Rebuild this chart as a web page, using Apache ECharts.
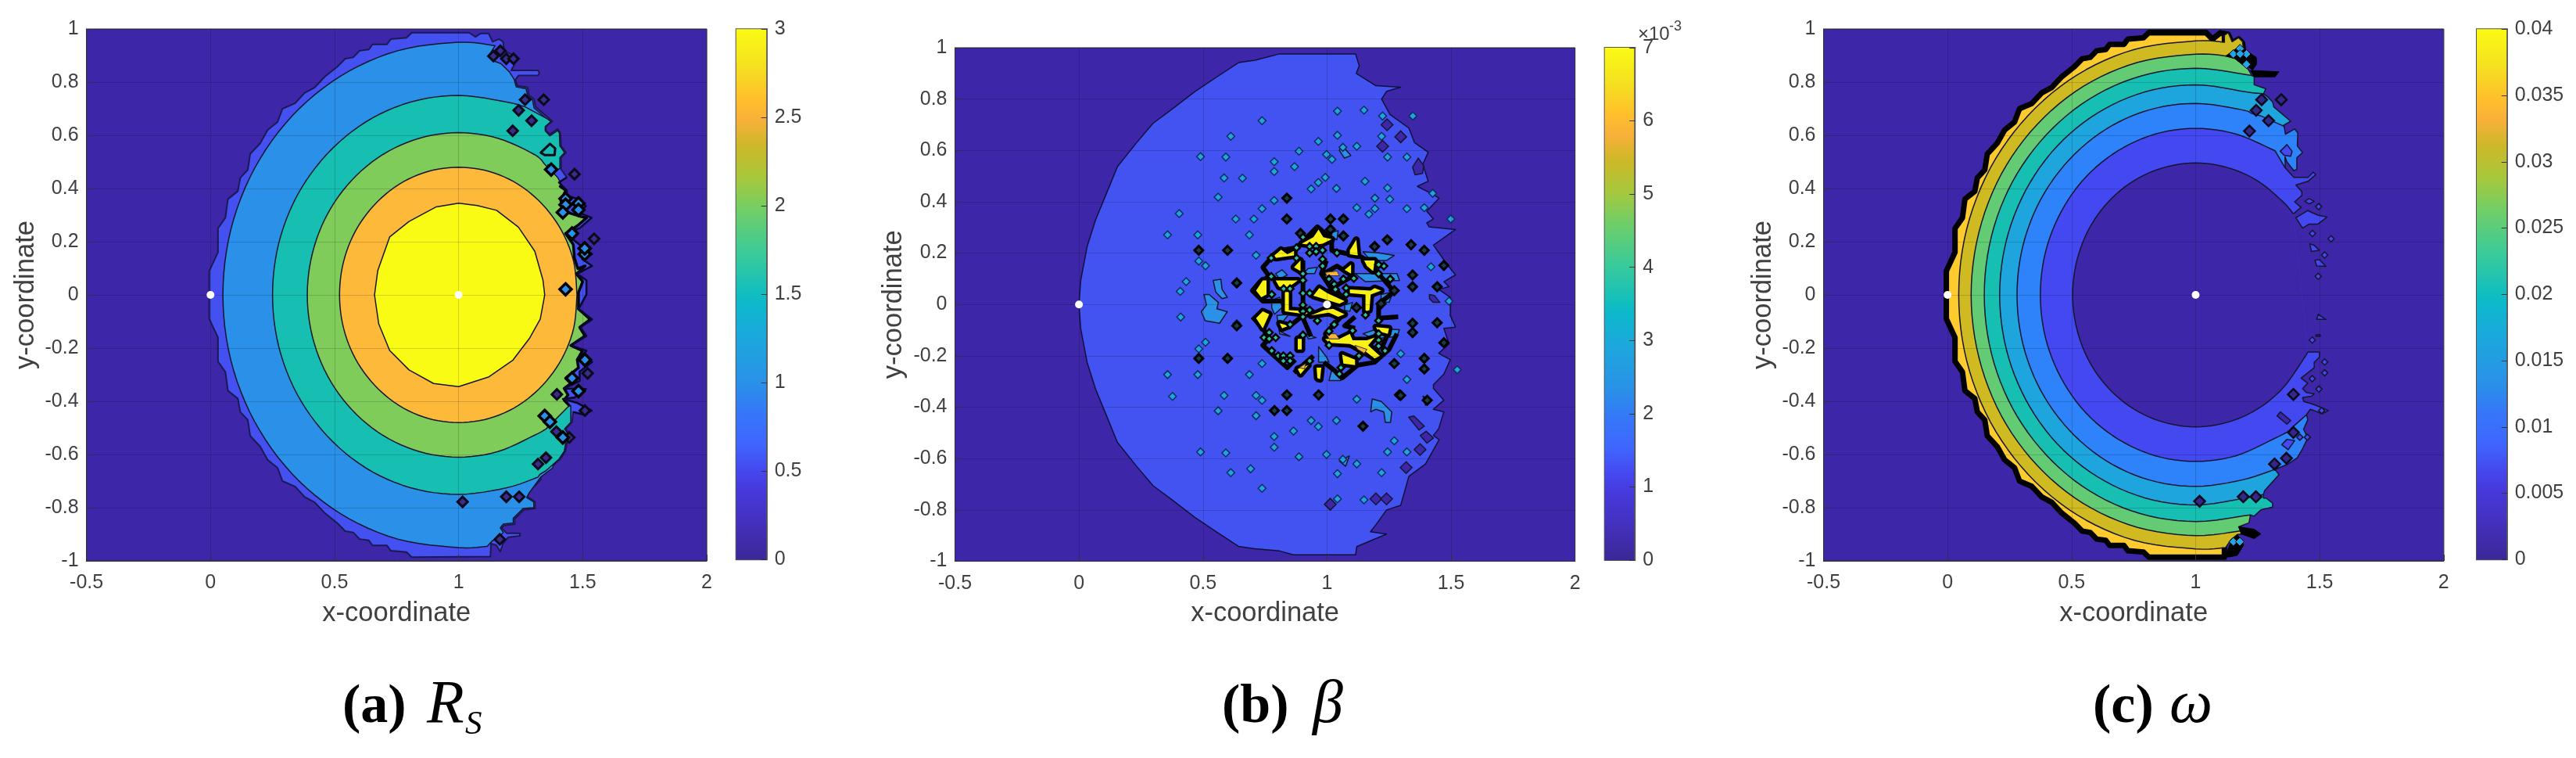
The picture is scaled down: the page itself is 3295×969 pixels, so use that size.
<!DOCTYPE html>
<html><head><meta charset="utf-8">
<style>html,body{margin:0;padding:0;background:#fff}#c{width:3295px;height:969px}</style>
<script src="https://cdn.jsdelivr.net/npm/echarts@6/dist/echarts.min.js"></script>
</head><body><div id="c"></div>
<script>
// ---------- axis and colour bar values ----------
const xRange=[-0.5,2], yRange=[-1,1];
const barMaxA=3, barStepA=0.5, barMaxB=7, barStepB=1, barMaxC=0.04, barStepC=0.005;
const colorOffsets=[0,.07,.13,.17,.22,.28,.33,.42,.48,.5,.58,.66,.72,.78,.83,.87,.93,1];
const colorValues=['#3B2796','#4331BE','#4738DC','#4549F0','#3F66FF','#3578F8','#2A90E8','#1CA8DC','#0DB8CC','#10BEC0','#3CCB98','#72CE66','#A8C83C','#CDB828','#F9B03A','#FFC02C','#F5E020','#FAFB14'];
const refPoints=[[0,0],[1,0]];
const BG='#3D26A8';

// outer left edge of the feasible region (top to bottom)
const outerLeft=[[.811,.986],[.79,.967],[.727,.962],[.711,.942],[.653,.942],[.638,.923],[.601,.918],[.575,.893],[.543,.888],[.512,.859],[.46,.82],[.42,.78],[.38,.76],[.34,.72],[.29,.70],[.27,.65],[.23,.62],[.2,.57],[.16,.53],[.15,.47],[.12,.44],[.11,.39],[.07,.36],[.06,.29],[.03,.25],[.03,.16],[-.005,.09],[-.005,-.09],[.03,-.16],[.03,-.25],[.06,-.29],[.07,-.36],[.11,-.39],[.12,-.44],[.15,-.47],[.16,-.53],[.2,-.57],[.23,-.62],[.27,-.65],[.29,-.70],[.34,-.72],[.38,-.76],[.42,-.78],[.46,-.82],[.512,-.859],[.543,-.888],[.575,-.893],[.601,-.918],[.638,-.923],[.653,-.942],[.711,-.942],[.727,-.962],[.79,-.967],[.811,-.986]];

// ---------- panel (a) R_S contours ----------
const aJagOuter=[[1.042,.986],[1.068,.970],[1.089,.983],[1.121,.983],[1.137,.952],[1.163,.962],[1.179,.952],[1.184,.918],[1.226,.898],[1.229,.874],[1.212,.844],[1.320,.844],[1.326,.834],[1.320,.825],[1.242,.825],[1.229,.810],[1.236,.787],[1.278,.780],[1.283,.751],[1.304,.736],[1.310,.707],[1.378,.653],[1.352,.633],[1.352,.617],[1.368,.604],[1.399,.624],[1.410,.609],[1.413,.560],[1.433,.535],[1.413,.516],[1.413,.472],[1.436,.442],[1.404,.423],[1.436,.393],[1.436,.374],[1.473,.363],[1.513,.334],[1.483,.310],[1.536,.290],[1.488,.251],[1.431,.231],[1.488,.188],[1.538,.154],[1.498,.135],[1.538,.109],[1.477,.079],[1.515,.055],[1.515,.001],[1.483,-.053],[1.538,-.092],[1.490,-.122],[1.515,-.154],[1.452,-.190],[1.515,-.210],[1.483,-.239],[1.538,-.252],[1.488,-.288],[1.488,-.323],[1.425,-.352],[1.513,-.354],[1.467,-.386],[1.420,-.391],[1.478,-.406],[1.536,-.435],[1.504,-.450],[1.462,-.440],[1.457,-.479],[1.431,-.504],[1.457,-.538],[1.436,-.558],[1.431,-.587],[1.410,-.617],[1.357,-.661],[1.331,-.675],[1.331,-.695],[1.284,-.739],[1.278,-.759],[1.308,-.778],[1.308,-.803],[1.263,-.808],[1.226,-.842],[1.226,-.862],[1.184,-.867],[1.173,-.876],[1.194,-.896],[1.247,-.896],[1.247,-.906],[1.200,-.911],[1.179,-.935],[1.168,-.965],[1.152,-.941],[1.131,-.935],[1.128,-.984]];
const aArc95=[[1.147,.937],[1,.95],[.754,.918],[.525,.823],[.328,.672],[.177,.475],[.082,.246],[.05,0],[.082,-.246],[.177,-.475],[.328,-.672],[.525,-.823],[.754,-.918],[1,-.95],[1.116,-.945]];
const aJag95=[[1.147,.937],[1.125,.905],[1.14,.88],[1.17,.87],[1.205,.838],[1.224,.81],[1.232,.782],[1.272,.775],[1.278,.748],[1.298,.733],[1.304,.703],[1.37,.65],[1.347,.633],[1.347,.617],[1.38,-.65],[1.331,-.685],[1.284,-.745],[1.274,-.762],[1.303,-.778],[1.303,-.80],[1.26,-.803],[1.22,-.84],[1.22,-.857],[1.18,-.862],[1.168,-.876],[1.18,-.893],[1.16,-.915],[1.135,-.925],[1.116,-.945]];
const aArc75=[[1.268,.707],[1.194,.725],[1,.75],[.806,.725],[.625,.65],[.47,.53],[.35,.375],[.275,.194],[.25,0],[.275,-.194],[.35,-.375],[.47,-.53],[.625,-.65],[.806,-.725],[1,-.75],[1.194,-.725],[1.32,-.685]];
const aJag75=[[1.268,.707],[1.357,.662],[1.372,.652],[1.349,.633],[1.349,.617],[1.368,.598],[1.399,.618],[1.406,.609],[1.408,.56],[1.427,.535],[1.408,.516],[1.408,.475],[1.395,.47],[1.36,.49],[1.44,-.42],[1.452,-.416],[1.452,-.44],[1.452,-.479],[1.427,-.504],[1.452,-.538],[1.431,-.558],[1.426,-.587],[1.405,-.617],[1.352,-.661],[1.327,-.675],[1.32,-.685]];
const aArc61=[[1.347,.491],[1.305,.528],[1.158,.589],[1,.61],[.842,.589],[.695,.528],[.569,.431],[.472,.305],[.411,.158],[.39,0],[.411,-.158],[.472,-.305],[.569,-.431],[.695,-.528],[.842,-.589],[1,-.61],[1.158,-.589],[1.305,-.528],[1.352,-.504]];
const aJag61=[[1.347,.491],[1.399,.442],[1.415,.413],[1.406,.41],[1.432,.393],[1.412,.354],[1.422,.315],[1.49,.295],[1.516,.29],[1.48,.261],[1.431,.231],[1.462,.19],[1.467,.138],[1.48,.099],[1.51,.109],[1.475,.079],[1.5,.05],[1.483,.009],[1.483,-.053],[1.53,-.092],[1.488,-.122],[1.509,-.154],[1.452,-.19],[1.499,-.21],[1.478,-.244],[1.483,-.274],[1.431,-.313],[1.452,-.333],[1.425,-.352],[1.441,-.376],[1.425,-.396],[1.446,-.416],[1.394,-.465],[1.352,-.504]];
const aArc48=[[1.477,0],[1.464,.124],[1.416,.24],[1.339,.339],[1.24,.416],[1.124,.464],[1,.48],[.876,.464],[.76,.416],[.661,.339],[.584,.24],[.536,.124],[.52,0],[.536,-.124],[.584,-.24],[.661,-.339],[.76,-.416],[.876,-.464],[1,-.48],[1.124,-.464],[1.24,-.416],[1.339,-.339],[1.416,-.24],[1.464,-.124],[1.477,0]];
const aCore=[[1,.345],[1.075,.336],[1.153,.318],[1.241,.255],[1.307,.164],[1.34,.055],[1.347,0],[1.329,-.091],[1.285,-.164],[1.219,-.245],[1.12,-.309],[1,-.345],[.899,-.333],[.8,-.282],[.722,-.209],[.678,-.109],[.661,0],[.674,.091],[.722,.218],[.8,.276],[.91,.331]];
const aHole=[[1.331,.535],[1.368,.568],[1.389,.551],[1.387,.526],[1.347,.526]];
const aDiaDark=[[1.14,.898],[1.168,.918],[1.192,.888],[1.221,.888],[1.268,.734],[1.343,.734],[1.242,.694],[1.294,.655],[1.218,.617],[1.467,.454],[1.546,.211],[1.52,-.295],[1.396,-.374],[1.352,-.612],[1.32,-.636],[1.192,-.759],[1.244,-.759],[1.016,-.778],[1.166,-.919],[1.446,-.536],[1.394,-.514],[1.509,-.435]];
const aDiaBlue=[[1.373,.471],[1.431,.362],[1.431,.339],[1.483,.344],[1.483,.32],[1.42,.31],[1.457,.231],[1.508,.153],[1.508,.175],[1.431,.021],[1.509,-.244],[1.457,-.313],[1.483,-.362],[1.347,-.455],[1.368,-.477],[1.42,-.536]];

// ---------- panel (b) beta contours ----------
const bOuterRight=[[.809,.976],[1.115,.976],[1.13,.93],[1.118,.90],[1.197,.852],[1.297,.846],[1.24,.83],[1.22,.80],[1.254,.74],[1.33,.687],[1.353,.63],[1.408,.593],[1.386,.546],[1.408,.48],[1.364,.46],[1.419,.433],[1.452,.414],[1.402,.363],[1.429,.333],[1.402,.318],[1.412,.302],[1.518,.292],[1.429,.231],[1.481,.160],[1.518,.115],[1.471,.089],[1.492,.069],[1.45,.059],[1.497,.028],[1.497,-.043],[1.518,-.088],[1.471,-.093],[1.492,-.154],[1.45,-.19],[1.497,-.215],[1.471,-.271],[1.429,-.312],[1.429,-.327],[1.471,-.373],[1.429,-.408],[1.471,-.418],[1.45,-.484],[1.429,-.51],[1.452,-.527],[1.397,-.621],[1.33,-.669],[1.297,-.782],[1.24,-.80],[1.197,-.858],[1.175,-.885],[1.24,-.894],[1.12,-.943],[1.115,-.975],[.865,-.975],[.809,-.96]];
const bOuterLeft=[[.71,-.951],[.643,-.942],[.554,-.885],[.466,-.828],[.377,-.762],[.299,-.706],[.233,-.631],[.155,-.537],[.111,-.433],[.067,-.33],[.033,-.226],[.007,-.094],[0,0],[.007,.094],[.033,.226],[.067,.33],[.111,.433],[.155,.537],[.233,.631],[.299,.706],[.377,.762],[.466,.828],[.554,.885],[.643,.942],[.71,.951]];
const bBlobsBlue=[
[[1.019,.282],[1.045,.287],[1.040,.252],[1.019,.262]],
[[1.145,.206],[1.208,.201],[1.271,.191],[1.239,.171],[1.176,.171]],
[[.819,.135],[.840,.115],[.809,.099],[.793,.120]],
[[.924,.140],[.961,.145],[.950,.120],[.903,.120]],
[[1.113,.120],[1.208,.120],[1.282,.120],[1.292,.094],[1.155,.089]],
[[1.218,.039],[1.266,.049],[1.250,.008],[1.218,.013]],
[[.777,.018],[.809,.028],[.819,-.012],[.788,-.038],[.777,-.012]],
[[.798,-.043],[.846,-.038],[.825,-.063],[.809,-.104],[.851,-.124],[.809,-.114]],
[[1.145,-.114],[1.208,-.093],[1.292,-.098],[1.282,-.124],[1.187,-.134]],
[[.966,-.164],[.998,-.205],[1.008,-.225],[.966,-.225]],
[[1.008,-.296],[1.019,-.256],[1.050,-.271],[1.056,-.296]],
[[1.071,-.002],[1.103,.008],[1.092,-.027],[1.071,-.022]],
[[.914,-.114],[.956,-.129],[.925,-.134]],
[[.504,.039],[.525,.039],[.562,.008],[.556,-.017],[.598,-.028],[.567,-.073],[.509,-.063],[.493,-.028],[.514,-.002]],
[[.541,.094],[.572,.098],[.577,.059],[.598,.028],[.577,.023],[.551,.049]],
[[1.182,-.368],[1.219,-.378],[1.261,-.418],[1.256,-.459],[1.235,-.459],[1.229,-.418],[1.197,-.408],[1.176,-.418]],
[[1.096,.58],[1.06,.62],[1.05,.6],[1.07,.57]],
[[1.05,-.61],[1.09,-.59],[1.075,-.63]]];
const bBlobsDark=[
[[1.413,.039],[1.434,.034],[1.455,.008],[1.429,.008],[1.413,.023]],
[[1.329,-.439],[1.350,-.434],[1.392,-.474],[1.371,-.489]],
[[1.387,-.357],[1.418,-.373],[1.397,-.393]],
[[1.400,-.494],[1.429,-.520],[1.403,-.540],[1.376,-.510]],
[[1.368,.57],[1.39,.54],[1.385,.51],[1.355,.505],[1.345,.535]]];
const bSkeleton=[
[[.775,.181],[.741,.145],[.767,.110],[.730,.089],[.699,.054],[.741,.013],[.830,.013]],
[[.699,-.048],[.741,-.093],[.767,-.134],[.741,-.159],[.840,-.246],[.872,-.215]],
[[.867,-.266],[.945,-.200]],
[[.966,-.302],[.966,-.246]],
[[.987,-.225],[1.029,-.256],[1.061,-.286],[1.124,-.236],[1.192,-.225],[1.25,-.175],[1.282,-.114]],
[[1.287,-.048],[1.208,-.053],[1.208,.003],[1.271,.049],[1.208,.120],[1.161,.171],[1.119,.196],[1.113,.252]],
[[.775,.181],[.809,.211],[.877,.221],[.961,.303],[1.019,.254],[1.019,.211],[1.113,.191]],
[[.987,.120],[1.040,.150],[1.103,.110],[1.029,.069],[1.071,.013]],
[[.903,.171],[.903,.044],[.903,-.053],[.935,-.124]],
[[.840,.018],[.840,-.032],[.935,-.032],[1.061,-.043],[.993,-.114],[1.008,-.154],[1.092,-.159],[1.197,-.215]],
[[.998,.171],[.977,.120],[1.019,.059],[.945,.028]],
[[1.092,.054],[1.187,.059],[1.166,-.027]],
[[1.113,-.048],[1.071,-.083],[1.113,-.093]],
[[1.197,-.083],[1.25,-.104],[1.218,-.175]],
[[.809,-.073],[.851,-.083],[.903,-.043]]];
const bBlobsYellow=[
[[.898,.237],[.945,.262],[.966,.292],[.985,.262],[1.019,.254],[.982,.237],[.940,.231]],
[[.788,.191],[.815,.213],[.840,.196],[.867,.209],[.867,.191],[.793,.181]],
[[1.092,.211],[1.118,.252],[1.124,.191],[1.092,.196]],
[[1.150,.171],[1.192,.171],[1.186,.130],[1.161,.150]],
[[.867,.145],[.893,.171],[.893,.130]],
[[1.071,.135],[1.097,.155],[1.097,.120]],
[[.714,.054],[.741,.094],[.756,.094],[.756,.039],[.735,.028]],
[[.793,.094],[.882,.094],[.840,.064],[.807,.069]],
[[.830,.049],[.846,.049],[.846,-.022],[.935,-.027],[.914,-.038],[.830,-.027]],
[[.945,.034],[.969,.064],[1.001,.044],[1.071,.013],[1.050,.003],[.998,.018]],
[[.935,-.043],[.987,-.022],[1.024,-.017],[1.071,-.038],[1.045,-.048],[1.008,-.032],[.966,-.038]],
[[1.092,.059],[1.176,.054],[1.192,.064],[1.218,.054],[1.176,.039],[1.171,-.022],[1.155,-.027],[1.155,.039],[1.092,.044]],
[[.741,-.027],[.767,-.038],[.741,-.093],[.714,-.053]],
[[.809,-.073],[.846,-.083],[.819,-.093]],
[[.993,-.134],[1.050,-.134],[1.092,-.114],[1.103,-.139],[1.161,-.139],[1.192,-.129],[1.166,-.159],[1.213,-.200],[1.192,-.210],[1.145,-.175],[1.092,-.154],[1.008,-.149]],
[[1.061,-.195],[1.113,-.215],[1.113,-.236],[1.066,-.230]],
[[.882,-.251],[.924,-.236],[.893,-.271]],
[[.882,-.134],[.898,-.134],[.898,-.175],[.882,-.175]],
[[.958,-.246],[.977,-.246],[.972,-.291],[.961,-.286]],
[[1.197,-.088],[1.250,-.093],[1.245,-.114],[1.208,-.104]]];
const bBlobsOrange=[
[[.993,.125],[1.040,.130],[1.050,.112],[.998,.112]],
[[.998,-.114],[1.035,-.114],[1.050,-.134],[1.008,-.134]],
[[1.113,-.159],[1.161,-.175],[1.150,-.190],[1.124,-.175]],
[[.888,-.246],[.914,-.230],[.909,-.251]]];
const bDotsTeal=[[.903,.262],[1.040,.201],[.930,.226],[.956,.226],[.982,.211],[.930,.201],[.956,.206],[.877,.221],[.775,.181],[.877,.181],[.982,.176],[.982,.150],[.903,.120],[.903,.094],[.775,.109],[1.229,.150],[1.208,.155],[1.208,.120],[1.255,.099],[1.008,.099],[1.066,.099],[1.029,.079],[1.034,.059],[1.077,.064],[1.077,.039],[1.108,.102],[.903,.044],[.930,.044],[.903,-.002],[.903,-.027],[.930,-.022],[.903,-.048],[.777,.039],[.825,.061],[.851,.061],[1.155,-.041],[1.208,-.063],[1.029,-.078],[1.008,-.104],[1.103,-.102],[1.208,-.114],[1.208,-.139],[1.208,-.162],[1.008,-.159],[1.129,-.200],[.767,-.109],[.746,-.129],[.793,-.129],[.767,-.134],[.777,-.180],[.803,-.200],[.824,-.200],[.851,-.200],[.824,-.220],[.851,-.220],[.851,-.078],[.903,-.119],[.930,-.220],[1.056,-.246],[1.050,-.271],[1.234,-.180],[.961,-.063]];
const bDotsBlack=[[1.119,-.012],[1.271,.054],[1.218,.003],[.893,.277],[1.014,.292],[1.066,.267],[1.192,.226],[1.243,.252],[1.339,.233],[1.392,.211],[1.471,.152],[1.444,.069],[1.345,.115],[1.345,.069],[1.345,-.073],[1.345,-.109],[1.444,-.071],[1.471,-.149],[1.392,-.251],[1.392,-.210],[1.271,-.230],[.599,-.210],[.599,.211],[.483,.211],[.483,-.210],[.636,.084],[.636,-.083],[1.014,.333],[1.066,.333],[.838,.333],[.838,-.352],[.966,-.352],[.788,-.413],[.838,-.413],[1.145,-.474],[1.292,-.352],[.838,.414],[1.297,-.354],[1.404,-.373]];
const bDotsBlue=[[.738,.716],[1.042,.753],[1.149,.757],[1.224,.734],[1.346,.734],[.612,.655],[1.042,.659],[1.22,.655],[.965,.635],[1.064,.612],[1.12,.616],[.998,.584],[.887,.597],[.49,.576],[.592,.574],[.787,.556],[.787,.518],[.869,.537],[1.02,.565],[1.244,.574],[1.322,.574],[.585,.493],[.659,.492],[.993,.495],[.965,.475],[.936,.45],[1.038,.452],[1.153,.48],[1.244,.454],[.561,.418],[.787,.405],[1.193,.414],[1.253,.41],[1.426,.433],[.404,.354],[.738,.373],[.632,.333],[.705,.333],[1.071,.333],[1.12,.377],[1.193,.373],[1.169,.352],[1.322,.373],[1.392,.377],[1.499,.333],[.357,.271],[.479,.271],[.687,.271],[.483,.169],[.51,.151],[.714,.192],[1.419,.147],[1.346,.113],[1.346,.072],[1.446,.072],[1.492,.013],[.432,.089],[.408,.051],[.41,-.049],[.636,.085],[.636,-.075],[1.346,-.072],[1.346,-.113],[1.446,-.072],[.51,-.147],[.483,-.173],[.479,-.273],[.357,-.273],[.687,-.273],[.738,-.23],[1.297,-.192],[1.322,-.292],[1.525,-.254],[.377,-.358],[.585,-.354],[.714,-.354],[.738,-.373],[.561,-.414],[.714,-.433],[.936,-.452],[.965,-.475],[1.038,-.452],[1.12,-.369],[.49,-.574],[.592,-.578],[.787,-.514],[.787,-.556],[.865,-.493],[.887,-.593],[.998,-.584],[1.064,-.603],[1.12,-.621],[1.244,-.574],[1.271,-.531],[1.322,-.574],[1.22,-.655],[1.042,-.659],[.612,-.655],[.692,-.64],[.738,-.716],[1.042,-.757],[1.149,-.761]];
const bDotsDark=[[1.242,.70],[1.297,.653],[1.224,.616],[1.013,-.778],[1.197,-.757],[1.24,-.757],[1.319,-.635],[1.375,-.565]];

// ---------- panel (c) omega contours ----------
const cYellowRight=[[1.116,-.986],[1.116,.98],[1.1,.985],[1.068,.962],[1.042,.986]];
const cBlackTop=[[.811,.986],[1.042,.986],[1.068,.962],[1.1,.985],[1.131,.98],[1.147,.948],[1.173,.962],[1.189,.948],[1.194,.908],[1.236,.888],[1.236,.87],[1.221,.85]];
const cBlackLumps=[
[[1.221,.844],[1.336,.839],[1.32,.82],[1.236,.82]],
[[1.121,.898],[1.179,.937],[1.236,.898],[1.236,.874],[1.205,.854],[1.158,.888]],
[[1.173,-.872],[1.236,-.881],[1.263,-.899],[1.236,-.916],[1.184,-.899]],
[[1.137,-.94],[1.168,-.901],[1.194,-.94],[1.168,-.979],[1.137,-.985],[1.12,-.985]]];
const cArc955=[[1.116,.95],[1,.955],[.753,.923],[.522,.827],[.325,.675],[.173,.478],[.077,.247],[.045,0],[.077,-.247],[.173,-.478],[.325,-.675],[.522,-.827],[.753,-.923],[1,-.955],[1.121,-.95]];
const cJag955=[[1.142,-.921],[1.168,-.901],[1.215,-.896],[1.184,-.884],[1.126,.898],[1.194,.913],[1.189,.952],[1.173,.967],[1.147,.952],[1.131,.986],[1.116,.976]];
const cArc905=[[1.126,.898],[1,.905],[.766,.874],[.547,.784],[.36,.64],[.216,.453],[.126,.234],[.095,0],[.126,-.234],[.216,-.453],[.36,-.64],[.547,-.784],[.766,-.874],[1,-.905],[1.189,-.886]];
const cJag905=[[1.173,-.872],[1.215,-.857],[1.221,-.827],[1.226,.825],[1.215,.844],[1.189,.874],[1.163,.893]];
const cArc852=[[1.226,.825],[1,.852],[.779,.823],[.574,.738],[.398,.602],[.262,.426],[.177,.221],[.148,0],[.177,-.221],[.262,-.426],[.398,-.602],[.574,-.738],[.779,-.823],[1,-.852],[1.221,-.827]];
const cJag852=[[1.236,-.832],[1.263,-.808],[1.31,-.798],[1.31,-.783],[1.284,-.764],[1.273,-.764],[1.273,.756],[1.283,.775],[1.236,.79],[1.236,.82]];
const cArc79=[[1.273,.756],[1.205,.763],[1,.79],[.795,.763],[.605,.684],[.441,.559],[.316,.395],[.237,.205],[.21,0],[.237,-.205],[.316,-.395],[.441,-.559],[.605,-.684],[.795,-.763],[1,-.79],[1.205,-.763],[1.273,-.75]];
const cJag79=[[1.278,-.736],[1.336,-.676],[1.32,-.656],[1.352,.636],[1.383,.653],[1.315,.707],[1.31,.726],[1.289,.746]];
const cArc72=[[1.226,.682],[1.186,.696],[1,.72],[.814,.696],[.64,.624],[.491,.509],[.376,.36],[.304,.186],[.28,0],[.304,-.186],[.376,-.36],[.491,-.509],[.64,-.624],[.814,-.696],[1,-.72],[1.186,-.696],[1.32,-.656]];
const cJag72=[[1.373,-.636],[1.41,-.612],[1.431,-.578],[1.452,-.538],[1.435,-.505],[1.452,-.469],[1.447,-.45],[1.394,-.494],[1.36,.52],[1.368,.5],[1.396,.467],[1.408,.472],[1.408,.516],[1.431,.535],[1.41,.56],[1.412,.609],[1.399,.624],[1.362,.604],[1.357,.633],[1.347,.638],[1.263,.673]];
const cArc626=[[1.32,.542],[1.162,.605],[1,.626],[.838,.605],[.687,.542],[.557,.443],[.458,.313],[.395,.162],[.374,0],[.395,-.162],[.458,-.313],[.557,-.443],[.687,-.542],[.838,-.605],[1,-.626],[1.162,-.605],[1.313,-.542],[1.373,-.514]];
const cJag626Lower=[[1.394,-.494],[1.447,-.45],[1.462,-.43],[1.478,-.435],[1.509,-.447],[1.535,-.435],[1.497,-.42],[1.473,-.411],[1.436,-.401],[1.431,-.386],[1.467,-.381],[1.478,-.372],[1.446,-.367],[1.431,-.352],[1.452,-.332],[1.425,-.313],[1.478,-.274],[1.478,-.254],[1.499,-.234],[1.499,-.215],[1.452,-.215]];
const cJag626Upper=[[1.394,.305],[1.425,.329],[1.399,.35],[1.428,.374],[1.428,.388],[1.404,.413],[1.453,.427],[1.484,.452],[1.474,.462],[1.453,.442],[1.396,.442],[1.36,.479],[1.32,.542]];
const cArc496=[[1.394,.305],[1.351,.351],[1.248,.43],[1.128,.479],[1,.496],[.872,.479],[.752,.43],[.649,.351],[.57,.248],[.521,.128],[.504,0],[.521,-.128],[.57,-.248],[.649,-.351],[.752,-.43],[.872,-.479],[1,-.496],[1.128,-.479],[1.248,-.43],[1.351,-.351],[1.43,-.248],[1.452,-.215]];
const cIslandsIndigo=[
[[1.404,.290],[1.452,.317],[1.492,.300],[1.530,.293],[1.492,.266],[1.457,.266],[1.431,.251]],
[[1.44,.352],[1.457,.362],[1.478,.352],[1.457,.342]],
[[1.46,.192],[1.477,.187],[1.499,.168],[1.467,.163]],
[[1.481,.130],[1.499,.133],[1.525,.107],[1.488,.109]],
[[1.341,.540],[1.368,.565],[1.389,.540],[1.383,.521],[1.357,.525]],
[[1.347,-.563],[1.368,-.543],[1.399,-.548],[1.373,-.582]],
[[1.494,-.073],[1.525,-.092],[1.488,-.092]]];
const cIslandsDark=[[[1.328,-.455],[1.342,-.440],[1.383,-.472],[1.368,-.486]],[[1.485,-.15],[1.502,-.15],[1.502,-.156],[1.485,-.156]]];
const cDiaCyan=[[1.179,.926],[1.152,.906],[1.205,.906],[1.179,.906],[1.205,.867],[1.152,-.928],[1.178,-.928]];
const cDiaDark=[[1.266,.734],[1.345,.734],[1.244,.694],[1.294,.655],[1.217,.616],[1.016,-.776],[1.192,-.759],[1.243,-.759],[1.318,-.636],[1.366,-.614],[1.394,-.517],[1.394,-.374]];
const cDiaTiny=[[1.496,.332],[1.546,.211],[1.52,.150],[1.471,.231],[1.494,.070],[1.42,-.535],[1.45,-.535],[1.52,-.293],[1.52,-.252],[1.47,-.315],[1.497,-.354],[1.508,-.435],[1.47,-.17]];

// ---------- drawing ----------
const LINE='#15152e', rev=a=>a.slice().reverse();
function spline(p){const n=p.length,o=[];if(n<3)return p.slice();
  for(let i=0;i<n-1;i++){const a=p[Math.max(i-1,0)],b=p[i],c=p[i+1],d=p[Math.min(i+2,n-1)];
    for(let k=0;k<6;k++){const t=k/6,t2=t*t,t3=t2*t;
      o.push([0,1].map(q=>.5*(2*b[q]+(c[q]-a[q])*t+(2*a[q]-5*b[q]+4*c[q]-d[q])*t2+(3*b[q]-a[q]-3*c[q]+d[q])*t3)));}}
  o.push(p[n-1]);return o;}
function contour(ax,layers){const rows=[];
  layers.forEach((l,i)=>{(l.arc||[]).concat(l.jag||[]).forEach((p,j)=>rows.push([p[0],p[1],i,j]));});
  return {type:'custom',xAxisIndex:ax,yAxisIndex:ax,coordinateSystem:'cartesian2d',clip:true,silent:true,z:2,encode:{x:0,y:1},data:rows,
    renderItem(params,api){ if(api.value(3)!==0)return null;
      const l=layers[api.value(2)];
      const pts=spline((l.arc||[]).map(p=>api.coord(p))).concat((l.jag||[]).map(p=>api.coord(p)));
      return {type:l.open?'polyline':'polygon',shape:{points:pts},
        style:{fill:l.open?null:l.fill,stroke:l.lw===0?null:(l.stroke||LINE),lineWidth:l.lw===undefined?1.5:l.lw,lineJoin:'round'}};}};}
function blobs(list,fill,lw,stroke){return list.map(j=>({jag:j,fill,lw,stroke}));}
function dots(ax,data,size,fill,border,bw,z){return {type:'scatter',xAxisIndex:ax,yAxisIndex:ax,silent:true,z:z||3,symbol:'diamond',symbolSize:size,data,
  itemStyle:{color:fill,borderColor:border,borderWidth:bw,opacity:1}};}
function whites(ax){return {type:'scatter',xAxisIndex:ax,yAxisIndex:ax,silent:true,z:7,symbol:'circle',symbolSize:10,data:refPoints,itemStyle:{color:'#fff',opacity:1}};}

const aLayers=[
 {jag:outerLeft.concat(rev(aJagOuter)),fill:'#4450F0',stroke:'#1a1a50',lw:2},
 {arc:aArc95,jag:rev(aJag95).slice(1),fill:'#2A90E8'},
 {arc:aArc75,jag:rev(aJag75).slice(1),fill:'#17BFB3'},
 {arc:aArc61,jag:rev(aJag61).slice(1),fill:'#80CC5A'},
 {arc:aArc48,fill:'#FDB939'},
 {jag:aCore,fill:'#F9FB15'},
 {jag:aHole,fill:'#17BFB3',stroke:'#0a0a1a',lw:3},
 {open:true,jag:aJag61.slice(3,-2),stroke:'#050510',lw:3.5},
 {open:true,jag:aJagOuter.slice(31,66),stroke:'#0a0a30',lw:2.5}];
const bLayers=[
 {jag:bOuterRight.concat(bOuterLeft),fill:'#4353F2',stroke:'#10103a',lw:1.5},
 ...blobs(bBlobsDark,BG,1.5),
 ...blobs(bBlobsBlue,'#2A90E8',1.5),
 ...bSkeleton.map(j=>({open:true,jag:j,stroke:'#000',lw:6})),
 ...blobs(bBlobsYellow,'#000',9,'#000'),
 ...blobs(bBlobsYellow,'#F9F115',0),
 ...blobs(bBlobsOrange,'#FBB43A',1,'#333')];
const cLayers=[
 {jag:outerLeft.concat(cYellowRight),fill:'#FDCB2E',stroke:'#000',lw:7},
 {open:true,jag:cBlackTop,stroke:'#000',lw:7},
 {arc:cArc955,jag:cJag955,fill:'#D0BA22'},
 {arc:cArc905,jag:cJag905,fill:'#62CB74'},
 {arc:cArc852,jag:cJag852,fill:'#17BFB3'},
 {arc:cArc79,jag:cJag79,fill:'#1FA5DE'},
 {arc:cArc72,jag:cJag72,fill:'#2E82FA'},
 {arc:cArc626,jag:cJag626Lower.concat(cJag626Upper),fill:'#4348F0',lw:0},
 {arc:cArc496,fill:BG,lw:0},
 {open:true,arc:cArc496,stroke:LINE,lw:1.5},
 {open:true,arc:cArc626,jag:cJag626Lower,stroke:LINE,lw:1.5},
 {open:true,jag:cJag626Upper,stroke:LINE,lw:1.5},
 ...blobs(cBlackLumps,'#000',1,'#000'),
 ...blobs(cIslandsIndigo,'#4348F0',1.5),
 ...blobs(cIslandsDark,BG,1.5)];

const TXT='#404040',FONT='"Liberation Sans",Arial,sans-serif';
const grids=[],xAxes=[],yAxes=[],series=[];
function panel(left,top,w,h,nameGapY){
  const i=grids.length;
  grids.push({left,top,width:w,height:h,containLabel:false,show:true,backgroundColor:BG,borderColor:'#333',borderWidth:1});
  const lab={color:TXT,fontFamily:FONT,fontSize:25};
  const tick={inside:true,length:8,lineStyle:{color:'#333',width:1}};
  xAxes.push({gridIndex:i,type:'value',min:xRange[0],max:xRange[1],interval:.5,z:5,position:'bottom',
    axisLine:{show:true,onZero:false,lineStyle:{color:'#333'}},axisTick:{show:true,...tick},axisLabel:{...lab,margin:16},
    splitLine:{show:true,lineStyle:{color:'rgba(0,0,0,.16)',width:1}},
    name:'x-coordinate',nameLocation:'middle',nameGap:67,nameTextStyle:{color:TXT,fontFamily:FONT,fontSize:34.5,verticalAlign:'middle'}});
  yAxes.push({gridIndex:i,type:'value',min:yRange[0],max:yRange[1],interval:.2,z:5,position:'left',
    axisLine:{show:true,onZero:false,lineStyle:{color:'#333'}},axisTick:{show:true,...tick},axisLabel:{...lab,margin:10},
    splitLine:{show:true,lineStyle:{color:'rgba(0,0,0,.16)',width:1}},
    name:'y-coordinate',nameLocation:'middle',nameGap:nameGapY,nameRotate:90,nameTextStyle:{color:TXT,fontFamily:FONT,fontSize:34.5,verticalAlign:'middle'}});
  return i;
}
function colorBar(left,top,w,h,max,step){
  const i=grids.length;
  grids.push({left,top,width:w,height:h,show:true,borderColor:'#555',borderWidth:2});
  xAxes.push({gridIndex:i,type:'category',data:['bar'],show:false});
  yAxes.push({gridIndex:i,type:'value',min:0,max,interval:step,position:'right',z:5,
    axisLine:{show:true,onZero:false,lineStyle:{color:'#555',width:1.5}},axisTick:{show:true,inside:true,length:7,lineStyle:{color:'#333'}},
    axisLabel:{color:TXT,fontFamily:FONT,fontSize:25,margin:10},splitLine:{show:false}});
  series.push({type:'bar',xAxisIndex:i,yAxisIndex:i,silent:true,barWidth:'100%',data:[max],
    itemStyle:{color:new echarts.graphic.LinearGradient(0,0,0,1,colorOffsets.map((o,k)=>({offset:1-o,color:colorValues[k]})).reverse())}});
}
const A=panel(110.6,37,793.4,680,77);
series.push(contour(A,aLayers),dots(A,aDiaDark,13,'#3A2C8A','#0a0a1a',3),dots(A,aDiaBlue,15,'#2A90E8','#000',3.5),whites(A));
const B=panel(1221.5,61,793.2,656.5,78);
series.push(contour(B,bLayers),dots(B,bDotsBlue,10,'#1FA5DE','#122a60',1.5),dots(B,bDotsDark,15,BG,'#15152e',1.5),dots(B,bDotsBlack,11,'#173f4a','#000',3),dots(B,bDotsTeal,9,'#2EC4A0','#000',2.5,4),whites(B));
const C=panel(2332.5,37,793.3,680,77);
series.push(contour(C,cLayers),dots(C,cDiaCyan,11,'#22A6E8','#000',1),dots(C,cDiaDark,14,'#33288a','#0a0a1a',2.5),dots(C,cDiaTiny,8,'#4348F0','#15152e',1.5),whites(C));
colorBar(941.7,37.3,39,678,barMaxA,barStepA);
colorBar(2052.7,61,38.5,655,barMaxB,barStepB);
colorBar(3168,37.3,38.7,678,barMaxC,barStepC);

const SERIF='"Liberation Serif",serif';
function txt(text,left,top,size,font,style,weight,color){return {text,left,top,padding:0,textStyle:{fontFamily:font,fontSize:size,fontStyle:style,fontWeight:weight,color}};}
const titles=[
 txt('(a)',438,870,70,SERIF,'normal','bold','#000'),txt('R',546,863,78,SERIF,'italic','normal','#000'),txt('S',595,905,43,SERIF,'italic','normal','#000'),
 txt('(b)',1563,870,70,SERIF,'normal','bold','#000'),txt('β',1679,863,78,SERIF,'italic','normal','#000'),
 txt('(c)',2677,870,70,SERIF,'normal','bold','#000'),txt('ω',2775,863,78,SERIF,'italic','normal','#000'),
 txt('×10',2095,32,24,FONT,'normal','normal',TXT),txt('-3',2135,25,18,FONT,'normal','normal',TXT)];

echarts.init(document.getElementById('c'),null,{renderer:'canvas'}).setOption({
  animation:false,backgroundColor:'#fff',title:titles,grid:grids,xAxis:xAxes,yAxis:yAxes,series});
</script></body></html>
